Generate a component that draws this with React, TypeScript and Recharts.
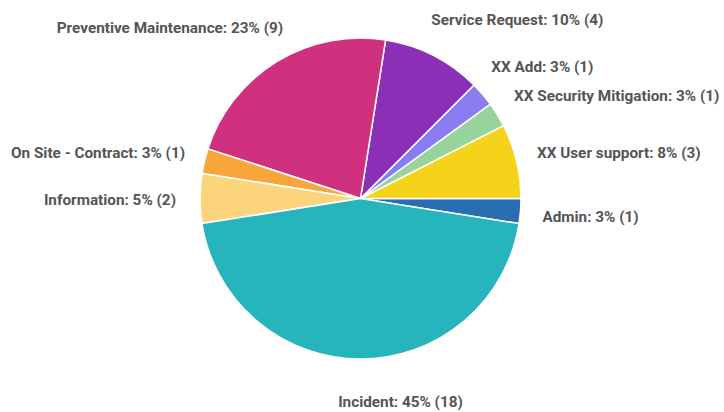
import React from "react";
import { PieChart, Pie, Cell } from "recharts";

if (typeof document !== "undefined") {
  document.body.style.margin = "0";
}

const categories = [
  "Admin",
  "XX User support",
  "XX Security Mitigation",
  "XX Add",
  "Service Request",
  "Preventive Maintenance",
  "On Site - Contract",
  "Information",
  "Incident",
];
const counts = [1, 3, 1, 1, 4, 9, 1, 2, 18];
const colors = [
  "#2a6db0",
  "#f4d31a",
  "#97d49b",
  "#8b7cf2",
  "#8a2fb6",
  "#cf317f",
  "#f6a63a",
  "#fcd47c",
  "#27b5bd",
];
// label nudges (dx, dy) relative to default outside position
const labelNudgeX = [0, -1, -2, -8, -12, 18, 2, -2, 40];
const labelNudgeY = [4, -3, -7, -13, -16, -15, -3, 1, 21];

const total = counts.reduce((a, b) => a + b, 0);
const data = categories.map((name, i) => ({ name, value: counts[i] }));

const RAD = Math.PI / 180;

const renderLabel = (props: any) => {
  const { cx, cy, midAngle, outerRadius, index, name, value } = props;
  const r = outerRadius + 22;
  const x = cx + r * Math.cos(-midAngle * RAD) + labelNudgeX[index];
  const y = cy + r * Math.sin(-midAngle * RAD) + labelNudgeY[index];
  const c = Math.cos(-midAngle * RAD);
  const anchor = Math.abs(c) < 0.01 ? "middle" : c > 0 ? "start" : "end";
  const pct = Math.round((value / total) * 100);
  return (
    <text
      x={x}
      y={y}
      textAnchor={anchor}
      dominantBaseline="central"
      fill="#555555"
      fontFamily="Roboto, sans-serif"
      fontWeight={700}
      fontSize={15.3}
    >
      {`${name}: ${pct}% (${value})`}
    </text>
  );
};

export default function App() {
  return (
    <div style={{ width: 724, height: 412, background: "#ffffff" }}>
      <PieChart width={724} height={412} margin={{ top: 0, right: 0, bottom: 0, left: 0 }}>
        <Pie
          data={data}
          dataKey="value"
          nameKey="name"
          cx={360.5}
          cy={198.5}
          outerRadius={160.5}
          startAngle={-9}
          endAngle={351}
          stroke="#ffffff"
          strokeWidth={1.5}
          label={renderLabel}
          labelLine={false}
          isAnimationActive={false}
        >
          {data.map((d, i) => (
            <Cell key={d.name} fill={colors[i]} />
          ))}
        </Pie>
      </PieChart>
    </div>
  );
}
